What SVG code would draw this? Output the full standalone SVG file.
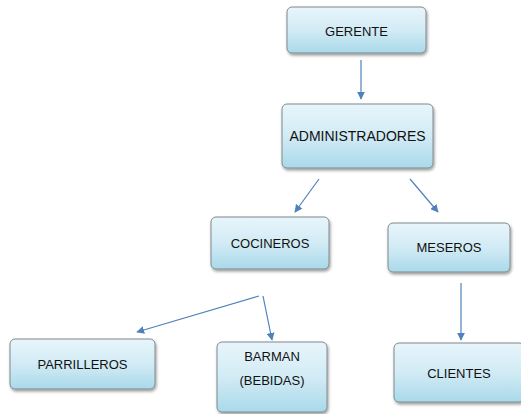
<svg xmlns="http://www.w3.org/2000/svg" width="521" height="414" viewBox="0 0 521 414">
<defs>
<linearGradient id="g" x1="0" y1="0" x2="0" y2="1">
<stop offset="0" stop-color="#e8f5fb"/>
<stop offset="0.5" stop-color="#d2ebf5"/>
<stop offset="1" stop-color="#a9d9ea"/>
</linearGradient>
<filter id="sh" x="-10%" y="-10%" width="130%" height="140%">
<feGaussianBlur in="SourceAlpha" stdDeviation="1.5"/>
<feOffset dx="1" dy="2" result="b"/>
<feComponentTransfer><feFuncA type="linear" slope="0.4"/></feComponentTransfer>
<feMerge><feMergeNode/><feMergeNode in="SourceGraphic"/></feMerge>
</filter>
<marker id="ah" viewBox="0 0 10 10" refX="9" refY="5" markerWidth="8" markerHeight="8" markerUnits="userSpaceOnUse" orient="auto">
<path d="M0,0 L10,5 L0,10 z" fill="#4f81bd"/>
</marker>
</defs>
<style>
.box{fill:url(#g);stroke:#7f8a8f;stroke-width:1;filter:url(#sh)}
.t{font-family:"Liberation Sans",Arial,sans-serif;font-size:13px;fill:#111;text-anchor:middle}
.c{stroke:#4f81bd;stroke-width:1.2;fill:none;marker-end:url(#ah)}
</style>
<rect width="521" height="414" fill="#fff"/>
<g id="connectors">
<line class="c" x1="361" y1="60" x2="361" y2="99"/>
<line class="c" x1="319" y1="179" x2="295" y2="212"/>
<line class="c" x1="410" y1="179" x2="438" y2="212"/>
<line class="c" x1="259" y1="296" x2="137" y2="332"/>
<line class="c" x1="263" y1="296" x2="272" y2="340"/>
<line class="c" x1="461" y1="283" x2="461" y2="340"/>
</g>
<g id="gerente"><rect class="box" x="287" y="7" width="139" height="46" rx="5"/><text class="t" x="356.5" y="36">GERENTE</text></g>
<g id="administradores"><rect class="box" x="282" y="104" width="151" height="64" rx="5"/><text class="t" x="357.5" y="141" style="font-size:14px">ADMINISTRADORES</text></g>
<g id="cocineros"><rect class="box" x="211" y="217" width="118" height="52" rx="5"/><text class="t" x="270" y="248">COCINEROS</text></g>
<g id="meseros"><rect class="box" x="388" y="223" width="122" height="49" rx="5"/><text class="t" x="449" y="252">MESEROS</text></g>
<g id="parrilleros"><rect class="box" x="10" y="339" width="145" height="50" rx="5"/><text class="t" x="82.5" y="369">PARRILLEROS</text></g>
<g id="barman"><rect class="box" x="217" y="342" width="110" height="70" rx="5"/><text class="t" x="272" y="361">BARMAN</text><text class="t" x="272" y="385">(BEBIDAS)</text></g>
<g id="clientes"><rect class="box" x="394" y="343" width="130" height="59" rx="5"/><text class="t" x="459" y="378">CLIENTES</text></g>
</svg>
